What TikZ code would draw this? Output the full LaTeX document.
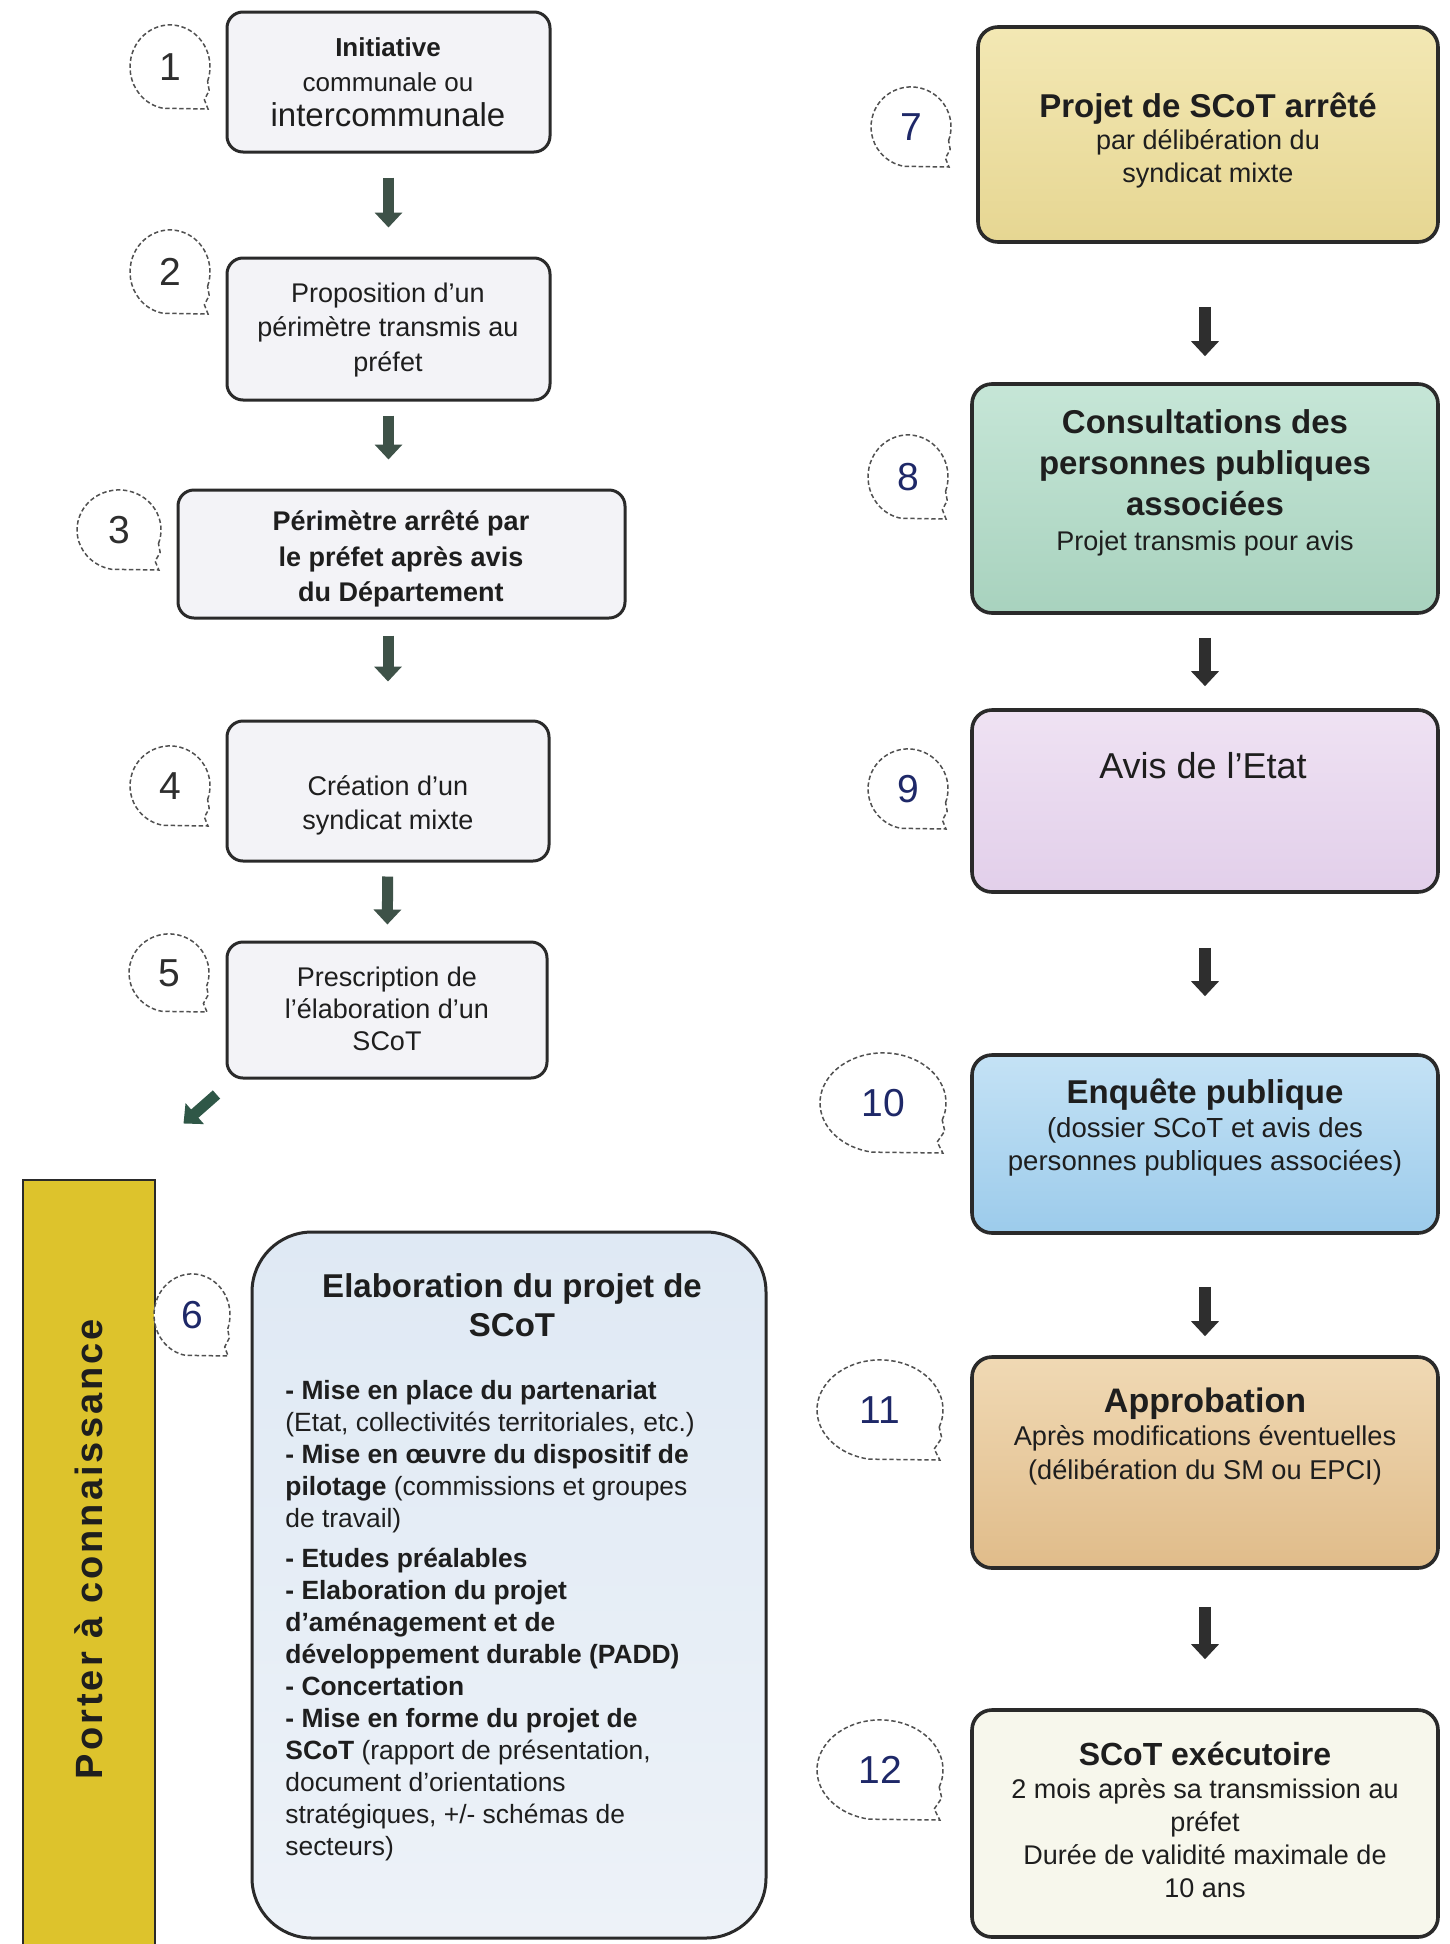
\documentclass[tikz,border=0pt]{standalone}
\usepackage{fontspec}
\setmainfont{Liberation Sans}
\usetikzlibrary{arrows.meta,calc}
\definecolor{boxline}{HTML}{2A2A2A}
\definecolor{lfill}{HTML}{F3F3F7}
\definecolor{cSevT}{HTML}{F3E8B4}
\definecolor{cSevB}{HTML}{E6D692}
\definecolor{cEigT}{HTML}{C6E6D7}
\definecolor{cEigB}{HTML}{A8D2BE}
\definecolor{cNinT}{HTML}{EFE2F3}
\definecolor{cNinB}{HTML}{E2CFEA}
\definecolor{cTenT}{HTML}{C4E2F5}
\definecolor{cTenB}{HTML}{9CCBEB}
\definecolor{cElvT}{HTML}{F0D9B4}
\definecolor{cElvB}{HTML}{E0BC8A}
\definecolor{cTwl}{HTML}{F7F7EC}
\definecolor{cSixT}{HTML}{DFE9F4}
\definecolor{cSixB}{HTML}{EDF2F8}
\definecolor{barfill}{HTML}{DDC32C}
\definecolor{arrowL}{HTML}{3E5248}
\definecolor{arrowR}{HTML}{2E2E2E}
\definecolor{arrowD}{HTML}{2F5747}
\definecolor{numL}{HTML}{2E2E2E}
\definecolor{numR}{HTML}{1E2868}
\definecolor{bubline}{HTML}{505050}
\definecolor{txtdark}{HTML}{1E1E1E}
\newcommand{\bubl}[7]{%
  \draw[bub] ({#2+0.94*#4},{#3+0.34*#5}) arc[start angle=20, end angle=-260, x radius=#4, y radius=#5]
     -- ({#2+0.95*#4},{#3+#5}) -- ({#2+0.86*#4},{#3+0.78*#5}) -- ({#2+0.98*#4},{#3+0.56*#5}) -- cycle;
  \node[numtxt, text=#7] (#1) at (#2,#3) {#6};
}
\begin{document}
\begin{tikzpicture}[x=0.5pt,y=-0.5pt,
  lbox/.style={draw=boxline, line width=1.5pt, rounded corners=8pt, fill=lfill, inner sep=0pt},
  rbox/.style={draw=boxline, line width=1.8pt, rounded corners=10pt, inner sep=0pt},
  txt/.style={align=center, inner sep=0pt, text=txtdark},
  numtxt/.style={font=\fontsize{19.5pt}{20pt}\selectfont, inner sep=0pt},
  bub/.style={draw=bubline, line width=0.75pt, dash pattern=on 2.2pt off 1.3pt, fill=white},
  arrL/.style={draw=arrowL, line width=5.5pt, -{Triangle[width=13.5pt,length=7.5pt]}},
  arrR/.style={draw=arrowR, line width=6pt, -{Triangle[width=13.5pt,length=7.5pt]}},
  arrD/.style={draw=arrowD, line width=5.5pt, -{Triangle[width=13.5pt,length=7.5pt]}},
  barstyle/.style={draw=boxline, line width=1.2pt, fill=barfill, inner sep=0pt}
]
\useasboundingbox (0,0) rectangle (1450,1944);
\fill[white] (0,0) rectangle (1450,1944);

% ---------- left column ----------
\node[lbox, minimum width=161.5pt, minimum height=70pt] (b1) at (388.5,82) {};
\node[lbox, minimum width=161.5pt, minimum height=71pt] (b2) at (388.5,329) {};
\node[lbox, minimum width=223.5pt, minimum height=64pt] (b3) at (401.5,554) {};
\node[lbox, minimum width=161pt, minimum height=70pt] (b4) at (388,791) {};
\node[lbox, minimum width=160pt, minimum height=68pt] (b5) at (387,1010) {};

\node[txt, font=\fontsize{13pt}{17.5pt}\selectfont] (t1) at (388,82)
  {\textbf{Initiative}\\communale ou\\{\fontsize{16.5pt}{17.5pt}\selectfont intercommunale}};
\node[txt, font=\fontsize{13.5pt}{17.25pt}\selectfont] (t2) at (388,330)
  {Proposition d'un\\périmètre transmis au\\préfet};
\node[txt, font=\bfseries\fontsize{13.5pt}{17.75pt}\selectfont] (t3) at (401,559)
  {Périmètre arrêté par\\le préfet après avis\\du Département};
\node[txt, font=\fontsize{13.5pt}{17pt}\selectfont] (t4) at (388,805)
  {Création d'un\\syndicat mixte};
\node[txt, font=\fontsize{13.5pt}{16pt}\selectfont] (t5) at (387,1009)
  {Prescription de\\l'élaboration d'un\\SCoT};

\bubl{n1}{170}{67}{40}{42}{1}{numL}
\bubl{n2}{170}{272}{40}{42}{2}{numL}
\bubl{n3}{119}{530}{42}{40}{3}{numL}
\bubl{n4}{170}{786}{40}{40}{4}{numL}
\bubl{n5}{169}{973}{40}{39}{5}{numL}

\draw[arrL, shorten <=12pt, shorten >=14.5pt] (b1) -- (b2);
\draw[arrL, shorten <=7pt, shorten >=14.5pt] (b2.south) -- (b2.south |- b3.north);
\draw[arrL, shorten <=8pt, shorten >=19pt] (b4.north |- b3.south) -- (b4.north);
\draw[arrL, shorten <=7pt, shorten >=8pt] (b4) -- (b5);
\draw[arrD] ([shift={(-9,15)}]b5.south west) -- ([shift={(-42,44)}]b5.south west);

% ---------- bar and box 6 ----------
\node[barstyle, minimum width=66pt, minimum height=385pt] (bar) at (89,1565) {};
\node[rotate=90, inner sep=0pt, text=txtdark,
      font=\bfseries\fontsize{19pt}{19pt}\selectfont\addfontfeatures{LetterSpace=8}] (bartxt) at (89,1549) {Porter à connaissance};

\node[draw=boxline, line width=1.5pt, rounded corners=30pt, top color=cSixT, bottom color=cSixB,
      minimum width=257pt, minimum height=353pt, inner sep=0pt] (b6) at (509,1585) {};
\node[txt, font=\bfseries\fontsize{16.5pt}{19.5pt}\selectfont] (t6h) at (512,1305)
  {Elaboration du projet de\\SCoT};
\node[txt, align=left, anchor=north west, font=\fontsize{13.2pt}{16pt}\selectfont] (t6l) at (285,1380)
  {\textbf{- Mise en place du partenariat}\\
   (Etat, collectivités territoriales, etc.)\\
   \textbf{- Mise en œuvre du dispositif de}\\
   \textbf{pilotage} (commissions et groupes\\
   de travail)\\[4pt]
   \textbf{- Etudes préalables}\\
   \textbf{- Elaboration du projet}\\
   \textbf{d'aménagement et de}\\
   \textbf{développement durable (PADD)}\\
   \textbf{- Concertation}\\
   \textbf{- Mise en forme du projet de}\\
   \textbf{SCoT} (rapport de présentation,\\
   document d'orientations\\
   stratégiques, +/- schémas de\\
   secteurs)};
\bubl{n6}{192}{1315}{38}{41}{6}{numR}

% ---------- right column ----------
\node[rbox, top color=cSevT, bottom color=cSevB, minimum width=230pt, minimum height=107.5pt] (b7) at (1208,134.5) {};
\node[rbox, top color=cEigT, bottom color=cEigB, minimum width=233pt, minimum height=114.5pt] (b8) at (1205,498.5) {};
\node[rbox, top color=cNinT, bottom color=cNinB, minimum width=233pt, minimum height=91pt] (b9) at (1205,801) {};
\node[rbox, top color=cTenT, bottom color=cTenB, minimum width=233pt, minimum height=89pt] (b10) at (1205,1144) {};
\node[rbox, top color=cElvT, bottom color=cElvB, minimum width=233pt, minimum height=105.5pt] (b11) at (1205,1462.5) {};
\node[rbox, fill=cTwl, minimum width=233pt, minimum height=113.5pt] (b12) at (1205,1823.5) {};

\node[txt, font=\fontsize{13.5pt}{16.25pt}\selectfont] (t7) at (1208,140)
  {{\bfseries\fontsize{16.5pt}{16.25pt}\selectfont Projet de SCoT arrêté}\\par délibération du\\syndicat mixte};
\node[txt, font=\bfseries\fontsize{16.5pt}{20.5pt}\selectfont] (t8) at (1205,483)
  {Consultations des\\personnes publiques\\associées\\[-3pt]{\mdseries\fontsize{13.5pt}{16pt}\selectfont Projet transmis pour avis}};
\node[txt, font=\fontsize{18pt}{20pt}\selectfont] (t9) at (1203,766) {Avis de l'Etat};
\node[txt, font=\fontsize{13.8pt}{16.75pt}\selectfont] (t10) at (1205,1128)
  {{\bfseries\fontsize{16.5pt}{16.75pt}\selectfont Enquête publique}\\(dossier SCoT et avis des\\personnes publiques associées)};
\node[txt, font=\fontsize{13.6pt}{16.75pt}\selectfont] (t11) at (1205,1436)
  {{\bfseries\fontsize{17pt}{16.75pt}\selectfont Approbation}\\Après modifications éventuelles\\(délibération du SM ou EPCI)};
\node[txt, font=\fontsize{13.5pt}{16.5pt}\selectfont] (t12) at (1205,1820)
  {{\bfseries\fontsize{16pt}{16.5pt}\selectfont SCoT exécutoire}\\2 mois après sa transmission au\\préfet\\Durée de validité maximale de\\10 ans};

\bubl{n7}{911}{127}{40}{40}{7}{numR}
\bubl{n8}{908}{477}{40}{42}{8}{numR}
\bubl{n9}{908}{789}{40}{40}{9}{numR}
\bubl{n10}{883}{1103}{63}{50}{10}{numR}
\bubl{n11}{880}{1410}{63}{50}{11}{numR}
\bubl{n12}{880}{1770}{63}{50}{12}{numR}

\draw[arrR, shorten <=31.5pt, shorten >=13pt] (b8.north |- b7.south) -- (b8.north);
\draw[arrR, shorten <=11.5pt, shorten >=11pt] (b8) -- (b9);
\draw[arrR, shorten <=27pt, shorten >=28.5pt] (b9) -- (b10);
\draw[arrR, shorten <=26pt, shorten >=9.5pt] (b10) -- (b11);
\draw[arrR, shorten <=18.5pt, shorten >=24.5pt] (b11) -- (b12);
\end{tikzpicture}
\end{document}
